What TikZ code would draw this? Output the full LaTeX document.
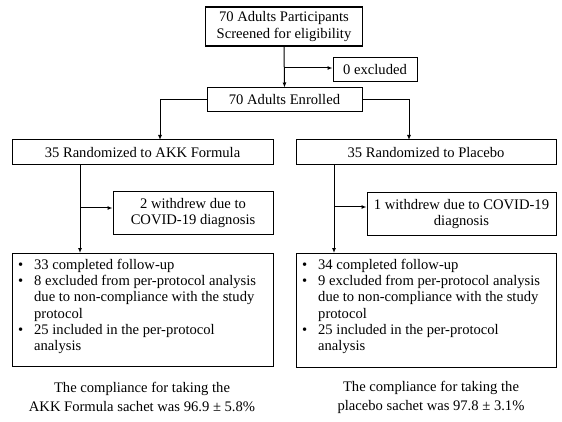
\documentclass[tikz,border=0pt]{standalone}
\usepackage{fontspec}
\setmainfont{Liberation Serif}
\usetikzlibrary{arrows.meta}
\newlength{\bw}
\setlength{\bw}{16pt}
\newcommand{\bul}{\makebox[\bw][l]{\textbullet}}
\newcommand{\ind}{\hspace*{\bw}}
\begin{document}
\begin{tikzpicture}[x=1pt,y=-1pt,
  box/.style={draw, line width=1pt, inner sep=0pt, align=center,
    font=\fontsize{14.6}{16.6}\selectfont},
  arr/.style={line width=1pt, -{Latex[length=5pt,width=4pt]}},
  ln/.style={line width=1pt},
  txt/.style={inner sep=0pt, align=left, anchor=north west,
    font=\fontsize{14.6}{16.2}\selectfont},
  ctxt/.style={inner sep=0pt, align=center,
    font=\fontsize{14.6}{19}\selectfont}]
\useasboundingbox (0,0) rectangle (562,422);
% boxes
\node[box, line width=1.8pt, minimum width=157pt, minimum height=39pt] (top) at (284,26.5)
  {70 Adults Participants\\Screened for eligibility};
\node[box, minimum width=84pt, minimum height=24pt] (excl) at (375,70) {0 excluded};
\node[box, minimum width=155pt, minimum height=24pt] (enr) at (284.5,100) {70 Adults Enrolled};
\node[box, minimum width=261pt, minimum height=25pt] (akk) at (142.5,152.5) {35 Randomized to AKK Formula};
\node[box, minimum width=260pt, minimum height=25pt] (pla) at (426,152.5) {35 Randomized to Placebo};
\node[box, minimum width=160pt, minimum height=42pt] (wl) at (193,213) {2 withdrew due to\\COVID-19 diagnosis};
\node[box, minimum width=189pt, minimum height=42pt] (wr) at (461.5,214) {1 withdrew due to COVID-19\\diagnosis};
\node[box, minimum width=261pt, minimum height=113pt] (bl) at (142.5,309.5) {};
\node[box, minimum width=260pt, minimum height=114pt] (br) at (426,310) {};
% box texts
\node[txt] (blt) at (18,259) {\bul 33 completed follow-up\\
\bul 8 excluded from per-protocol analysis\\
\ind due to non-compliance with the study\\
\ind protocol\\
\bul 25 included in the per-protocol\\
\ind analysis};
\node[txt] (brt) at (302,259) {\bul 34 completed follow-up\\
\bul 9 excluded from per-protocol analysis\\
\ind due to non-compliance with the study\\
\ind protocol\\
\bul 25 included in the per-protocol\\
\ind analysis};
\node[ctxt] (cl) at (142,397) {The compliance for taking the\\AKK Formula sachet was 96.9 ± 5.8\%};
\node[ctxt] (cr) at (431,397) {The compliance for taking the\\placebo sachet was 97.8 ± 3.1\%};
% connector coordinates
\coordinate (ex) at (284,68);
\coordinate (akkin) at (160,140);
\coordinate (plain) at (409,140);
\coordinate (lo) at (80,165);
\coordinate (lb) at (80,208);
\coordinate (li) at (80,253);
\coordinate (ro) at (334,165);
\coordinate (rb) at (334,207);
\coordinate (ri) at (334,253);
% connectors
\draw[arr] (top.south) -- (enr.north);
\draw[arr] (ex) -- (ex -| excl.west);
\draw[arr] (enr.west) -| (akkin);
\draw[arr] (enr.east) -| (plain);
\draw[arr] (lo) -- (li);
\draw[arr] (lb) -- (lb -| wl.west);
\draw[arr] (ro) -- (ri);
\draw[arr] (rb) -- (rb -| wr.west);
\end{tikzpicture}
\end{document}
